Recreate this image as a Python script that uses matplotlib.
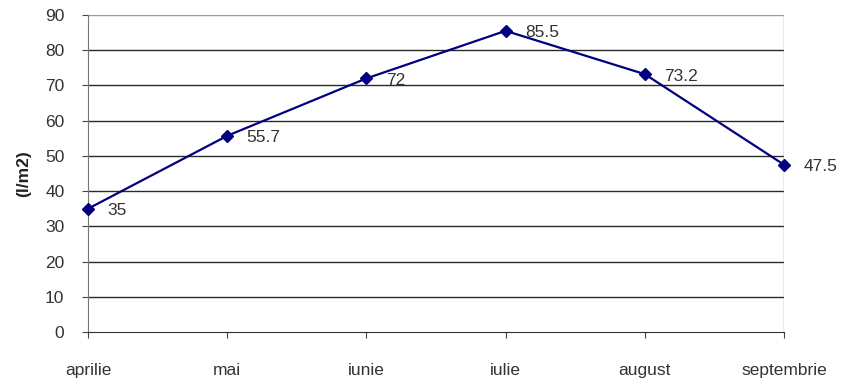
import matplotlib
matplotlib.use("Agg")
import matplotlib.pyplot as plt

months = ["aprilie", "mai", "iunie", "iulie", "august", "septembrie"]
rainfall = [35, 55.7, 72, 85.5, 73.2, 47.5]
value_labels = ["35", "55.7", "72", "85.5", "73.2", "47.5"]
y_ticks = [0, 10, 20, 30, 40, 50, 60, 70, 80, 90]

plt.rcParams["font.family"] = ["Liberation Sans", "DejaVu Sans"]

fig = plt.figure(figsize=(8.44, 3.82), dpi=100)
ax = fig.add_axes([88 / 844, 50 / 382, 696 / 844, 317 / 382])

x = list(range(len(months)))
ax.set_xlim(0, len(months) - 1)
ax.set_ylim(0, 90)
ax.set_yticks(y_ticks)
ax.set_xticks(x)
ax.set_xticklabels(months)

for t in y_ticks[1:-1]:
    ax.axhline(t, color="#2a2a2a", lw=1.0, zorder=1)
ax.axhline(90, color="#9a9a9a", lw=1.0, zorder=1)

ax.plot(x, rainfall, color="#000080", lw=1.6, marker="D", markersize=6.5,
        markerfacecolor="#000080", markeredgecolor="#000080", zorder=3,
        clip_on=False)

for xi, v, lab in zip(x, rainfall, value_labels):
    ax.annotate(lab, (xi, v), xytext=(14, -1.5), textcoords="offset points",
                ha="left", va="center", fontsize=12.5, color="#333333")

for side in ["top", "right"]:
    ax.spines[side].set_visible(False)
ax.spines["left"].set_color("#777777")
ax.spines["bottom"].set_color("#333333")
ax.axvline(len(months) - 1, color="#9a9a9a", lw=1.0, zorder=1)

ax.tick_params(axis="both", labelsize=12.5, colors="#444444", length=4,
               labelcolor="#333333")
ax.tick_params(axis="x", pad=18)
ax.tick_params(axis="y", pad=13)

ax.set_ylabel("(l/m2)", fontsize=12.5, fontweight="bold", labelpad=10,
              color="#222222")

fig.savefig("out.png", dpi=100)
